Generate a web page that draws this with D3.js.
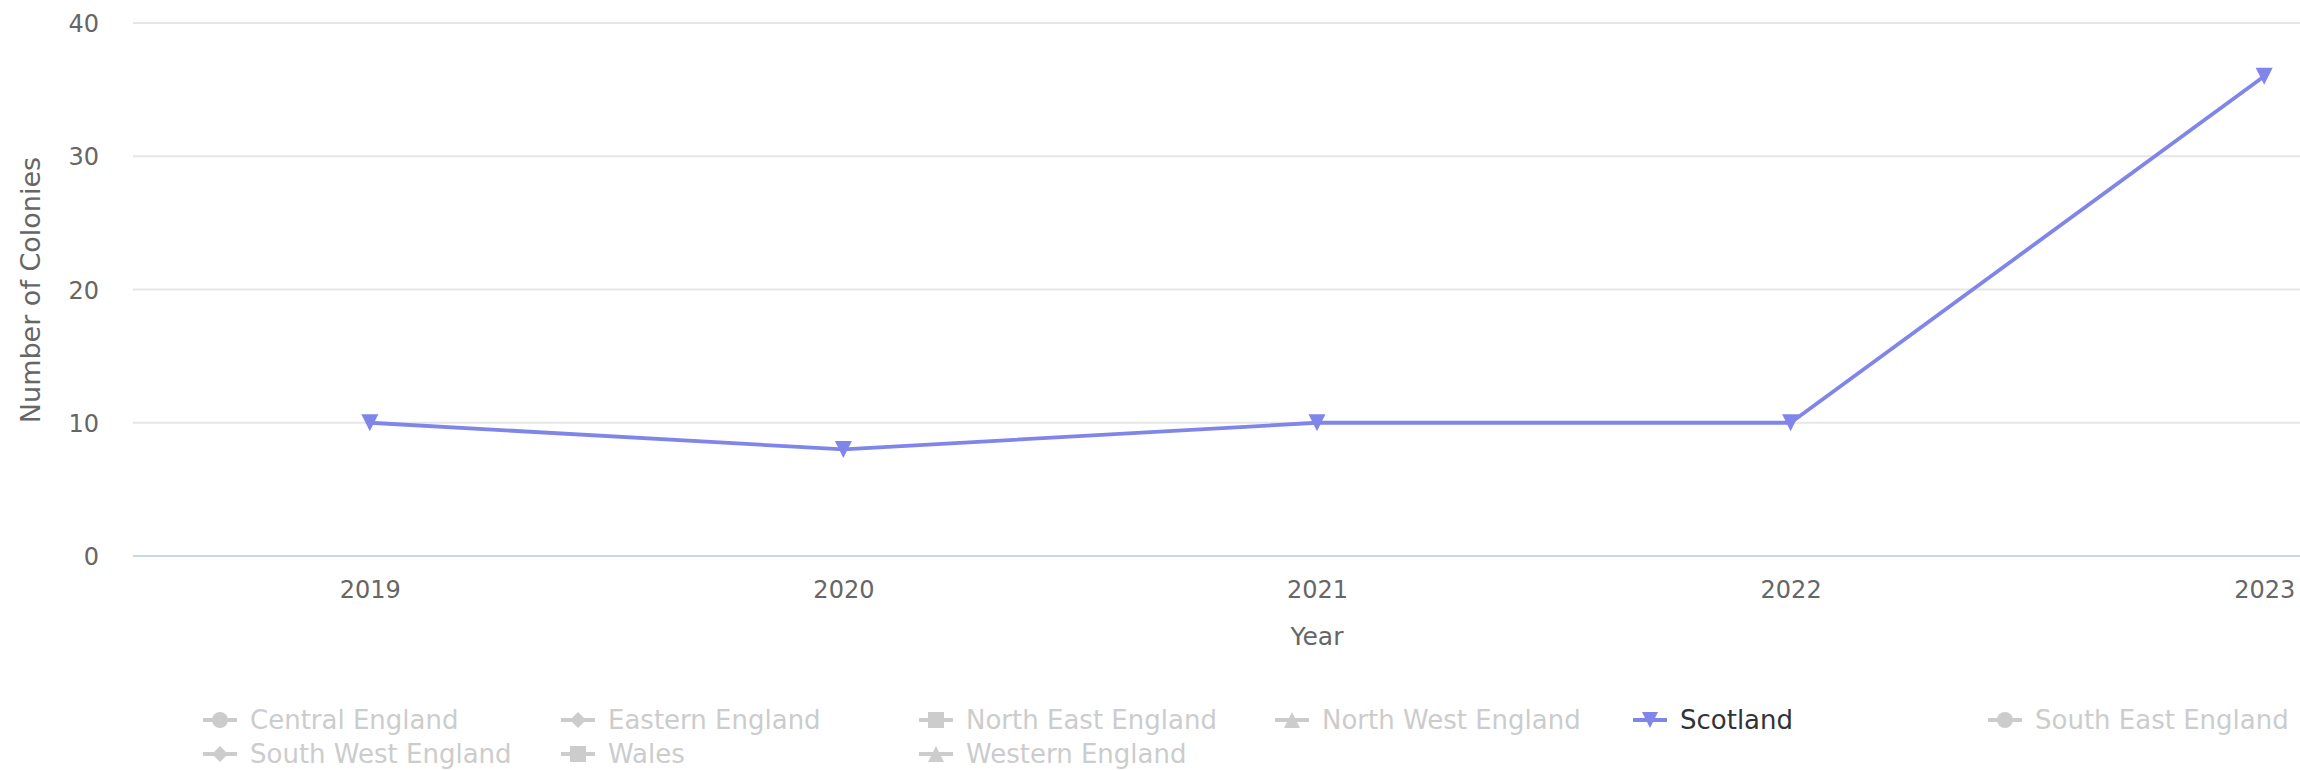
<!DOCTYPE html>
<html>
<head>
<meta charset="utf-8">
<script src="https://cdn.jsdelivr.net/npm/d3@7"></script>
<style>
  html, body { margin: 0; padding: 0; background: #ffffff; }
  svg { display: block; font-family: "DejaVu Sans", Verdana, sans-serif; }
</style>
</head>
<body>
<svg id="chart" width="2300" height="770"></svg>
<script>
// ---- data ----
const years = ["2019", "2020", "2021", "2022", "2023"];
const scotlandValues = [10, 8, 10, 10, 36];
const yTickValues = [0, 10, 20, 30, 40];
const seriesNames = ["Central England", "Eastern England", "North East England", "North West England",
  "Scotland", "South East England", "South West England", "Wales", "Western England"];
const seriesSymbols = ["circle", "diamond", "square", "triangle", "triangle-down",
  "circle", "diamond", "square", "triangle"];
const seriesVisible = [false, false, false, false, true, false, false, false, false];
const xTitle = "Year";
const yTitle = "Number of Colonies";

// ---- layout ----
const W = 2300, H = 770;
const plotLeft = 133, plotRight = 2501, plotTop = 23, plotBottom = 556;
const lineColor = "#8085e9";
const hiddenColor = "#cccccc";
const fontSize = 24;
const legendFontSize = 26;

const svg = d3.select("#chart");

const x = d3.scalePoint().domain(years).range([plotLeft, plotRight]).padding(0.5);
const y = d3.scaleLinear().domain([0, 40]).range([plotBottom, plotTop]);

// grid lines
svg.append("g").selectAll("line")
  .data(yTickValues.filter(v => v !== 0))
  .join("line")
  .attr("x1", plotLeft).attr("x2", W)
  .attr("y1", d => y(d)).attr("y2", d => y(d))
  .attr("stroke", "#e6e6e6").attr("stroke-width", 2);

// y axis labels
const yAxis = d3.axisLeft(y).tickValues(yTickValues).tickSize(0).tickPadding(0);
const yG = svg.append("g").attr("transform", `translate(99,0)`).call(yAxis);
yG.select(".domain").remove();
yG.selectAll("text")
  .attr("font-size", fontSize).attr("font-family", "DejaVu Sans, Verdana, sans-serif")
  .attr("fill", "#666666").attr("dy", "0.36em").attr("x", 0);

// x axis
const xAxis = d3.axisBottom(x).tickSize(0).tickPadding(0);
const xG = svg.append("g").attr("transform", `translate(0,${plotBottom})`).call(xAxis);
xG.select(".domain").remove();
xG.selectAll("text")
  .attr("font-size", fontSize).attr("font-family", "DejaVu Sans, Verdana, sans-serif")
  .attr("fill", "#666666").attr("y", 42).attr("dy", 0);
svg.append("line")
  .attr("x1", plotLeft).attr("x2", W)
  .attr("y1", y(0)).attr("y2", y(0))
  .attr("stroke", "#ccd6eb").attr("stroke-width", 2);

// axis titles
svg.append("text")
  .attr("x", (x("2019") + x("2023")) / 2).attr("y", 645)
  .attr("text-anchor", "middle").attr("font-size", 25)
  .attr("fill", "#666666").text(xTitle);
svg.append("text")
  .attr("transform", `translate(40,290) rotate(-90)`)
  .attr("text-anchor", "middle").attr("font-size", 27)
  .attr("fill", "#666666").text(yTitle);

// symbol path
function symbolPath(type, cx, cy, r) {
  switch (type) {
    case "circle":
      return `M${cx - r},${cy}a${r},${r} 0 1,0 ${2 * r},0a${r},${r} 0 1,0 ${-2 * r},0Z`;
    case "square":
      return `M${cx - r},${cy - r}H${cx + r}V${cy + r}H${cx - r}Z`;
    case "diamond":
      return `M${cx},${cy - r}L${cx + r},${cy}L${cx},${cy + r}L${cx - r},${cy}Z`;
    case "triangle":
      return `M${cx},${cy - r}L${cx + r},${cy + r}L${cx - r},${cy + r}Z`;
    case "triangle-down":
      return `M${cx - r},${cy - r}L${cx + r},${cy - r}L${cx},${cy + r}Z`;
  }
}

// series line
const scotlandIdx = seriesNames.indexOf("Scotland");
const pts = years.map((yr, i) => [x(yr), y(scotlandValues[i])]);
svg.append("path")
  .attr("d", d3.line()(pts))
  .attr("fill", "none").attr("stroke", lineColor).attr("stroke-width", 3.8)
  .attr("stroke-linejoin", "round").attr("stroke-linecap", "round");
svg.append("g").selectAll("path")
  .data(pts)
  .join("path")
  .attr("d", d => symbolPath(seriesSymbols[scotlandIdx], d[0], d[1], 8.5))
  .attr("fill", lineColor);

// legend
const legendColX = [250, 608, 966, 1322, 1680, 2035];
const legendRowY = [720, 754];
const perRow = 6;
const legend = svg.append("g");
seriesNames.forEach((name, i) => {
  const col = i % perRow, row = Math.floor(i / perRow);
  const tx = legendColX[col], ty = legendRowY[row];
  const color = seriesVisible[i] ? lineColor : hiddenColor;
  const g = legend.append("g");
  g.append("line")
    .attr("x1", tx - 47).attr("x2", tx - 13)
    .attr("y1", ty).attr("y2", ty)
    .attr("stroke", color).attr("stroke-width", 3.8);
  g.append("path")
    .attr("d", symbolPath(seriesSymbols[i], tx - 30, ty, 8))
    .attr("fill", color);
  g.append("text")
    .attr("x", tx).attr("y", ty).attr("dy", "0.36em")
    .attr("font-size", legendFontSize)
    .attr("fill", seriesVisible[i] ? "#333333" : hiddenColor)
    .text(name);
});
</script>
</body>
</html>
